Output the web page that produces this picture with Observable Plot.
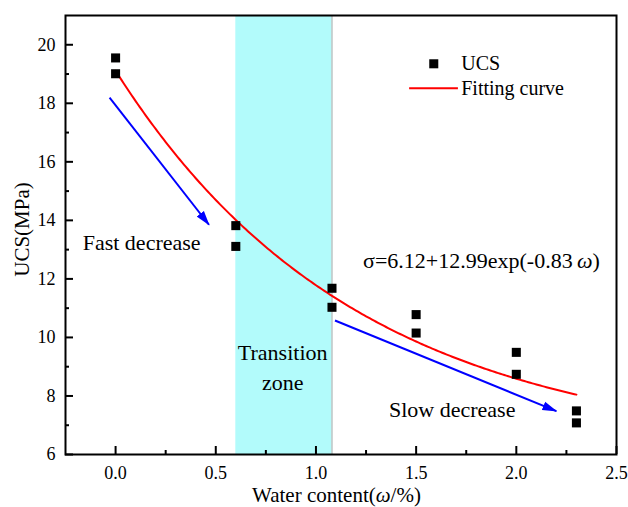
<!DOCTYPE html>
<html>
<head>
<meta charset="utf-8">
<script src="https://cdn.jsdelivr.net/npm/d3@7"></script>
<script src="https://cdn.jsdelivr.net/npm/@observablehq/plot@0.6"></script>
<style>
  body { margin: 0; background: #fff; }
  #chart svg { display: block; }
</style>
</head>
<body>
<div id="chart"></div>
<script>
// Measured UCS (MPa) at each water content (%), two specimens per level
const waterContent = [0, 0, 0.6, 0.6, 1.08, 1.08, 1.5, 1.5, 2.0, 2.0, 2.3, 2.3];
const ucs = [19.55, 19.01, 13.82, 13.11, 11.68, 11.03, 10.78, 10.15, 9.49, 8.74, 7.49, 7.08];

// Exponential fit: sigma = a + b * exp(k * omega)
const fitA = 6.12, fitB = 12.99, fitK = -0.83;
const fitRange = [0, 2.3];

// Transition zone bounds (water content)
const zoneStart = 0.6, zoneEnd = 1.08;

// Trend arrows
const arrowX1 = [-0.03, 1.095];
const arrowY1 = [18.19, 10.58];
const arrowX2 = [0.466, 2.2];
const arrowY2 = [13.85, 7.48];

// Annotations
const noteText = ["Fast decrease", "Transition\nzone", "Slow decrease"];
const noteX = [0.13, 0.834, 1.68];
const noteY = [13.31, 9.05, 7.62];

// Formula label anchor
const formulaX = 1.235, formulaY = 12.62;

// Legend
const legendLabels = ["UCS", "Fitting curve"];
const legendRowY = [19.35, 18.51];
const legendTextX = 1.725;
const legendMarkX = 1.588;
const legendLineX = [1.465, 1.7085];

// Axes
const xDomain = [-0.25, 2.5];
const yDomain = [6, 21];
const xTicks = [0, 0.5, 1, 1.5, 2, 2.5];
const xMinor = [0.25, 0.75, 1.25, 1.75, 2.25];
const yTicks = [6, 8, 10, 12, 14, 16, 18, 20];
const yMinor = [7, 9, 11, 13, 15, 17, 19];
const xTitle = "Water content(ω/%)";
const yTitle = "UCS(MPa)";

const serif = "Liberation Serif, Times New Roman, serif";
const W = 628, H = 507;
const margin = {top: 15, right: 12, bottom: 53, left: 65};

const points = waterContent.map((w, i) => ({w, s: ucs[i]}));
const curve = d3.range(fitRange[0], fitRange[1] + 1e-9, 0.01)
  .map(w => ({w, s: fitA + fitB * Math.exp(fitK * w)}));
const arrows = arrowX1.map((x1, i) => ({x1, y1: arrowY1[i], x2: arrowX2[i], y2: arrowY2[i]}));
const notes = noteText.map((t, i) => ({t, x: noteX[i], y: noteY[i]}));
const formula = `σ=${fitA.toFixed(2)}+${fitB.toFixed(2)}exp(${fitK.toFixed(2)}\u2009ω)`;

// Filled triangular arrowhead
const filledArrow = (color) => d3.create("svg:marker")
  .attr("viewBox", "0 -5 15 10")
  .attr("markerUnits", "userSpaceOnUse")
  .attr("markerWidth", 15)
  .attr("markerHeight", 10)
  .attr("refX", 14)
  .attr("refY", 0)
  .attr("orient", "auto")
  .attr("fill", color)
  .attr("stroke", "none")
  .call(m => m.append("path").attr("d", "M0,-4.5L15,0L0,4.5Z"))
  .node();

const plot = Plot.plot({
  width: W,
  height: H,
  marginTop: margin.top,
  marginRight: margin.right,
  marginBottom: margin.bottom,
  marginLeft: margin.left,
  style: {fontFamily: serif, fontSize: "18px", color: "black", background: "white"},
  x: {domain: xDomain},
  y: {domain: yDomain},
  marks: [
    Plot.rect([{x1: zoneStart, x2: zoneEnd}], {x1: "x1", x2: "x2", fill: "#b2fbfb"}),
    Plot.ruleX([zoneEnd], {stroke: "#b9c4c4", strokeWidth: 1.5}),
    Plot.line(curve, {x: "w", y: "s", stroke: "#ff0000", strokeWidth: 2}),
    Plot.link(arrows, {x1: "x1", y1: "y1", x2: "x2", y2: "y2", stroke: "#0000ff", strokeWidth: 2, markerEnd: filledArrow}),
    Plot.dot(points, {x: "w", y: "s", symbol: "square", r: 5.1, fill: "black"}),
    Plot.text(notes, {x: "x", y: "y", text: "t", fontSize: 22, lineHeight: 1.36, fill: "black"}),
    Plot.text([formula], {x: () => formulaX, y: () => formulaY, text: d => d, textAnchor: "start", fontSize: 22, fill: "black"}),
    // legend
    Plot.dot([legendRowY[0]], {x: () => legendMarkX, y: d => d, symbol: "square", r: 5.1, fill: "black"}),
    Plot.link([legendRowY[1]], {x1: () => legendLineX[0], x2: () => legendLineX[1], y1: d => d, y2: d => d, stroke: "#ff0000", strokeWidth: 2}),
    Plot.text(legendLabels, {x: () => legendTextX, y: (d, i) => legendRowY[i], text: d => d, textAnchor: "start", fontSize: 20, fill: "black"}),
    // axes: labels, then major and minor ticks pointing inward
    Plot.axisX(xTicks, {tickSize: 0, tickPadding: 12, tickFormat: d3.format(".1f"), fontSize: 18, label: null}),
    Plot.axisX(xTicks, {tickSize: -8, fill: "none", strokeWidth: 2, label: null}),
    Plot.axisX(xMinor, {tickSize: -4, fill: "none", strokeWidth: 2, label: null}),
    Plot.axisY(yTicks, {tickSize: 0, tickPadding: 10, tickFormat: d3.format("d"), fontSize: 18, label: null}),
    Plot.axisY(yTicks, {tickSize: -8, fill: "none", strokeWidth: 2, label: null}),
    Plot.axisY(yMinor, {tickSize: -4, fill: "none", strokeWidth: 2, label: null}),
    Plot.frame({stroke: "black", strokeWidth: 2})
  ]
});

const svg = d3.select(plot);

// Set ω in italics wherever it appears
function italicizeOmega(sel) {
  sel.each(function () {
    const t = d3.select(this);
    if (!t.select("tspan").empty()) return;
    const s = t.text();
    if (!s.includes("ω")) return;
    t.text(null);
    s.split(/(ω)/).forEach(part => {
      if (!part) return;
      const ts = t.append("tspan").text(part);
      if (part === "ω") ts.attr("font-style", "italic");
    });
  });
}

// Axis titles
const plotCx = (margin.left + (W - margin.right)) / 2;
const plotCy = (margin.top + (H - margin.bottom)) / 2;
svg.append("text")
  .attr("x", plotCx - 4).attr("y", 495).attr("dy", "0.35em")
  .attr("text-anchor", "middle")
  .attr("font-size", 21).attr("fill", "black")
  .text(xTitle);
svg.append("text")
  .attr("transform", `translate(22,${plotCy - 5}) rotate(-90)`)
  .attr("dy", "0.35em")
  .attr("text-anchor", "middle")
  .attr("font-size", 21).attr("fill", "black")
  .text(yTitle);

italicizeOmega(svg.selectAll("text"));
svg.selectAll("text").style("font-family", serif);

document.getElementById("chart").appendChild(plot);
</script>
</body>
</html>
